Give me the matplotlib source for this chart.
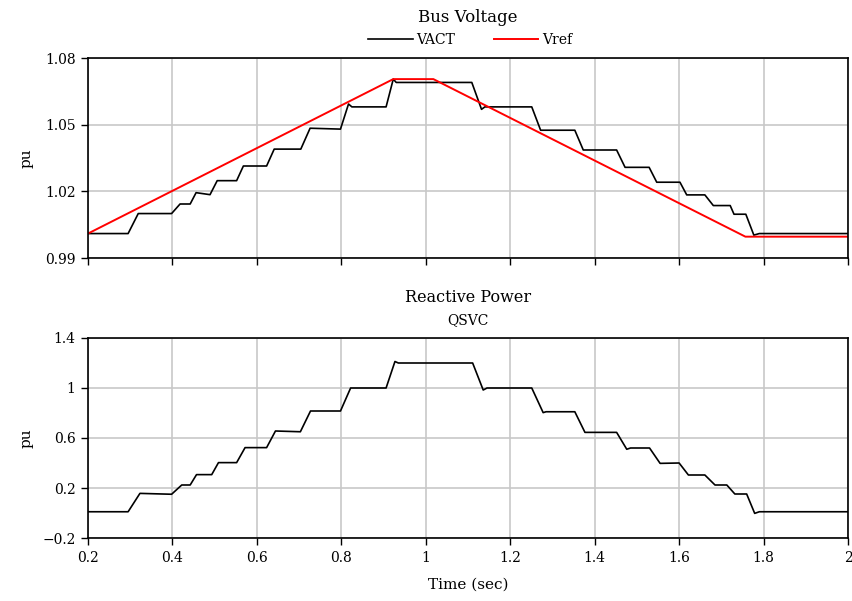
import matplotlib
matplotlib.use("Agg")
import matplotlib.pyplot as plt

# ---- data ----
vact_t = [0.2, 0.295, 0.319, 0.398, 0.418, 0.442, 0.456, 0.489, 0.506, 0.552,
          0.568, 0.623, 0.641, 0.704, 0.726, 0.798, 0.817, 0.825, 0.906, 0.923,
          0.93, 1.109, 1.132, 1.14, 1.251, 1.272, 1.353, 1.373, 1.452, 1.472,
          1.529, 1.547, 1.602, 1.618, 1.661, 1.681, 1.721, 1.730, 1.758, 1.777,
          1.79, 2.0]
vact_v = [1.001, 1.001, 1.010, 1.010, 1.0143, 1.0143, 1.0194, 1.0185, 1.0248, 1.0248,
          1.0314, 1.0314, 1.039, 1.039, 1.0484, 1.048, 1.0593, 1.058, 1.058, 1.0705,
          1.069, 1.069, 1.0569, 1.058, 1.058, 1.0475, 1.0475, 1.0386, 1.0386, 1.0308,
          1.0308, 1.0241, 1.0241, 1.0184, 1.0184, 1.0136, 1.0136, 1.0097, 1.0097, 1.0003,
          1.001, 1.001]

vref_t = [0.2, 0.923, 1.018, 1.757, 2.0]
vref_v = [1.001, 1.0705, 1.0705, 0.9996, 0.9996]

q_t = [0.2, 0.295, 0.323, 0.398, 0.422, 0.442, 0.457, 0.493, 0.509, 0.552,
       0.572, 0.623, 0.644, 0.703, 0.727, 0.798, 0.822, 0.906, 0.927, 0.935,
       1.111, 1.136, 1.145, 1.251, 1.278, 1.285, 1.353, 1.377, 1.452, 1.476,
       1.485, 1.53, 1.555, 1.6, 1.622, 1.661, 1.685, 1.713, 1.732, 1.76,
       1.779, 1.79, 2.0]
q_v = [0.01, 0.01, 0.157, 0.15, 0.224, 0.224, 0.307, 0.307, 0.403, 0.403,
       0.523, 0.523, 0.656, 0.65, 0.816, 0.816, 1.0, 1.0, 1.212, 1.2,
       1.2, 0.984, 1.0, 1.0, 0.803, 0.81, 0.81, 0.645, 0.645, 0.51,
       0.52, 0.52, 0.397, 0.40, 0.304, 0.304, 0.224, 0.224, 0.152, 0.152,
       -0.003, 0.01, 0.01]

x_ticks = [0.2, 0.4, 0.6, 0.8, 1.0, 1.2, 1.4, 1.6, 1.8, 2.0]
x_ticklabels = ["0.2", "0.4", "0.6", "0.8", "1", "1.2", "1.4", "1.6", "1.8", "2"]
v_ticks = [0.99, 1.02, 1.05, 1.08]
v_ticklabels = ["0.99", "1.02", "1.05", "1.08"]
q_ticks = [-0.2, 0.2, 0.6, 1.0, 1.4]
q_ticklabels = ["\u22120.2", "0.2", "0.6", "1", "1.4"]

plt.rcParams['font.family'] = ['DejaVu Serif']

W, H = 853, 601
fig = plt.figure(figsize=(W / 100, H / 100), dpi=100)

def fx(px):
    return px / W

def fy(py):
    return 1 - py / H

ax1 = fig.add_axes([fx(88), fy(258), fx(848) - fx(88), fy(58) - fy(258)])
ax2 = fig.add_axes([fx(88), fy(538), fx(848) - fx(88), fy(338) - fy(538)])

l1, = ax1.plot(vact_t, vact_v, color='black', lw=1.2, label='VACT')
l2, = ax1.plot(vref_t, vref_v, color='#ff0000', lw=1.4, label='Vref')
ax2.plot(q_t, q_v, color='black', lw=1.2)

for ax in (ax1, ax2):
    ax.set_xlim(0.2, 2.0)
    ax.set_xticks(x_ticks)
    ax.grid(True, color='#c8c8c8', lw=1.2)
    ax.set_axisbelow(True)
    for s in ax.spines.values():
        s.set_linewidth(1.2)
        s.set_color('black')
    ax.tick_params(direction='out', length=5, width=1.0, labelsize=10, pad=4)
    ax.set_ylabel('pu', fontsize=11)
    ax.yaxis.set_label_coords(-0.072, 0.5)

ax1.set_ylim(0.99, 1.08)
ax1.set_yticks(v_ticks)
ax1.set_yticklabels(v_ticklabels)
ax1.set_xticklabels([])

ax2.set_ylim(-0.2, 1.4)
ax2.set_yticks(q_ticks)
ax2.set_yticklabels(q_ticklabels)
ax2.set_xticklabels(x_ticklabels)

fig.text(fx(468), fy(17), 'Bus Voltage', ha='center', va='center', fontsize=12)
fig.legend(handles=[l1, l2], loc='center', bbox_to_anchor=(fx(470), fy(40)),
           ncol=2, frameon=False, fontsize=10, handlelength=3.2,
           handletextpad=0.25, columnspacing=2.8)
fig.text(fx(468), fy(297), 'Reactive Power', ha='center', va='center', fontsize=11.5)
fig.text(fx(468), fy(320), 'QSVC', ha='center', va='center', fontsize=10)
fig.text(fx(468), fy(585), 'Time (sec)', ha='center', va='center', fontsize=11)

fig.savefig('out.png', dpi=100)
